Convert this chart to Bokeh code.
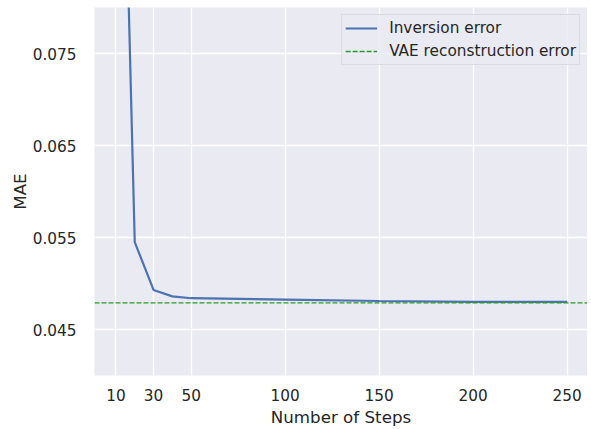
from bokeh.plotting import figure
from bokeh.models import FixedTicker, Range1d, Legend, LegendItem, Span
from bokeh.embed import file_html
from bokeh.resources import INLINE

steps = [10, 20, 30, 40, 50, 100, 150, 200, 250]
inversion_mae = [0.135, 0.0545, 0.0493, 0.0486, 0.0484, 0.04825, 0.0481, 0.0480, 0.0480]
vae_recon_mae = 0.0479
x_ticks = [10, 30, 50, 100, 150, 200, 250]
y_ticks = [0.045, 0.055, 0.065, 0.075]

FONT = "DejaVu Sans"
TXT = "#262626"
GREEN = "#2a9a2a"

p = figure(frame_width=493, frame_height=368, output_backend="svg", toolbar_location=None,
           x_range=Range1d(-1.4, 260.8), y_range=Range1d(0.040, 0.080),
           min_border_left=94, min_border_right=0, min_border_top=7, min_border_bottom=45)

p.background_fill_color = "#EAEAF2"
p.border_fill_color = "white"
p.outline_line_color = None

for ax in (p.xaxis, p.yaxis):
    ax.axis_line_color = None
    ax.major_tick_line_color = None
    ax.minor_tick_line_color = None
    ax.major_label_text_font = FONT
    ax.major_label_text_font_size = "15.3px"
    ax.major_label_text_color = TXT
    ax.axis_label_text_font = FONT
    ax.axis_label_text_font_size = "16.7px"
    ax.axis_label_text_color = TXT
    ax.axis_label_text_font_style = "normal"

p.xaxis.ticker = FixedTicker(ticks=x_ticks)
p.yaxis.ticker = FixedTicker(ticks=y_ticks)
p.xaxis.axis_label = "Number of Steps"
p.yaxis.axis_label = "MAE"
p.xaxis.major_label_standoff = 7
p.yaxis.major_label_standoff = 12
p.xaxis.axis_label_standoff = 3
p.yaxis.axis_label_standoff = 0

p.grid.grid_line_color = "white"
p.grid.grid_line_width = 1.3

vae = Span(location=vae_recon_mae, dimension="width", line_color=GREEN,
           line_width=1.3, line_dash="5 2")
p.add_layout(vae)

inv = p.line(steps, inversion_mae, line_color="#4C72B0", line_width=2.2)
# legend proxy for the horizontal reference line (drawn outside the visible range)
vae_proxy = p.line(x=[-100, -90], y=[vae_recon_mae, vae_recon_mae],
                   line_color=GREEN, line_width=1.3, line_dash="5 2")

legend = Legend(items=[LegendItem(label="Inversion error", renderers=[inv]),
                       LegendItem(label="VAE reconstruction error", renderers=[vae_proxy])],
                location="top_right")
legend.label_text_font = FONT
legend.label_text_font_size = "15.3px"
legend.label_text_color = TXT
legend.background_fill_color = "#EAEAF2"
legend.background_fill_alpha = 0.8
legend.border_line_color = "#CCCCCC"
legend.border_line_width = 1
legend.glyph_width = 32
legend.glyph_height = 20
legend.label_height = 20
legend.label_standoff = 12
legend.spacing = 3
legend.padding = 3
legend.margin = 7
p.add_layout(legend)

open("out.html", "w").write(file_html(p, INLINE))
